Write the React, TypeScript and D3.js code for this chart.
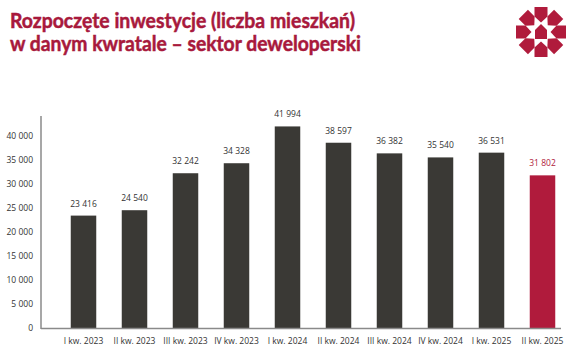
import React from 'react';
import * as d3 from 'd3';

const quarters = [
  'I kw. 2023', 'II kw. 2023', 'III kw. 2023', 'IV kw. 2023',
  'I kw. 2024', 'II kw. 2024', 'III kw. 2024', 'IV kw. 2024',
  'I kw. 2025', 'II kw. 2025',
];
const started = [23416, 24540, 32242, 34328, 41994, 38597, 36382, 35540, 36531, 31802];
const yTicks = [0, 5000, 10000, 15000, 20000, 25000, 30000, 35000, 40000];
const titleLines = ['Rozpoczęte inwestycje (liczba mieszkań)', 'w danym kwratale – sektor deweloperski'];

const W = 570;
const H = 353;
const RED = '#b01b3c';
const DARK = '#3a3935';

// format like "23 416"
const fmt = (v: number) => d3.format(',')(v).replace(/,/g, ' ');

const Logo = ({ cx, cy }: { cx: number; cy: number }) => {
  // pentagon pointing towards the centre, repeated 8 times
  const piece = 'M-6.5,-25 L6.5,-25 L6.5,-15.5 L0,-9.5 L-6.5,-15.5 Z';
  return (
    <g transform={`translate(${cx},${cy})`} fill={RED}>
      {d3.range(8).map((k) => (
        <path key={k} d={piece} transform={`rotate(${k * 45})`} />
      ))}
      <path d="M0,-8 L6,-2 L6,7 L-6,7 L-6,-2 Z" />
    </g>
  );
};

export default function App() {
  const x = d3.scaleBand<string>().domain(quarters).range([58, 568]).paddingInner(0.5).paddingOuter(0.25);
  const y = d3.scaleLinear().domain([0, 40000]).range([328, 136]);
  const axisX = 41;

  return (
    <svg width={W} height={H} style={{ position: 'absolute', left: 0, top: 0, background: '#fff' }}>
      <g
        fontFamily="Lato, 'Open Sans', sans-serif"
        fontWeight={700}
        fill="#a8193c"
        stroke="#a8193c"
        strokeWidth={0.5}
        fontSize={21}
      >
        <text x={10} y={28} textLength={345} lengthAdjust="spacingAndGlyphs">{titleLines[0]}</text>
        <text x={10} y={51} textLength={351} lengthAdjust="spacingAndGlyphs">{titleLines[1]}</text>
      </g>
      <Logo cx={541} cy={32} />

      <g fontFamily="'Open Sans', sans-serif" fontSize={8.5} fill="#333">
        {yTicks.map((t) => (
          <text key={t} x={33} y={y(t) + 3} textAnchor="end">{fmt(t)}</text>
        ))}
      </g>

      {quarters.map((q, i) => {
        const last = i === quarters.length - 1;
        const bx = x(q) as number;
        return (
          <g key={q}>
            <rect x={bx} y={y(started[i])} width={x.bandwidth()} height={y(0) - y(started[i])} fill={last ? RED : DARK} />
            <text
              x={bx + x.bandwidth() / 2}
              y={y(started[i]) - 9}
              textAnchor="middle"
              fontFamily="'Open Sans', sans-serif"
              fontSize={8.5}
              fill={last ? RED : '#333'}
            >
              {fmt(started[i])}
            </text>
            <text
              x={bx + x.bandwidth() / 2}
              y={344}
              textAnchor="middle"
              fontFamily="'Open Sans', sans-serif"
              fontSize={8.5}
              fill="#333"
            >
              {q}
            </text>
          </g>
        );
      })}

      <line x1={axisX} x2={axisX} y1={116} y2={329} stroke="#8a8a8a" strokeWidth={1.5} />
      <line x1={axisX} x2={561} y1={328.5} y2={328.5} stroke="#8a8a8a" strokeWidth={1.5} />
    </svg>
  );
}
